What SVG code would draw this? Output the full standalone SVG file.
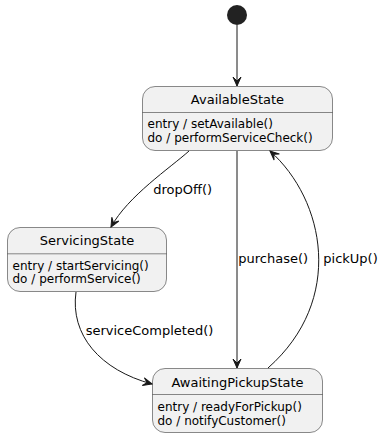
<svg xmlns="http://www.w3.org/2000/svg" width="383" height="437" viewBox="0 0 383 437">
  <style>
    .state { fill: #F1F1F1; stroke: #181818; stroke-width: 0.5; }
    .sep { stroke: #181818; stroke-width: 0.5; }
    .name { font-family: "DejaVu Sans", sans-serif; font-size: 13px; fill: #000; text-anchor: middle; }
    .body { font-family: "DejaVu Sans", sans-serif; font-size: 12px; fill: #000; }
    .edge { fill: none; stroke: #181818; stroke-width: 1; marker-end: url(#arrow); }
    .label { font-family: "DejaVu Sans", sans-serif; font-size: 13px; fill: #000; }
  </style>
  <defs>
    <marker id="arrow" markerUnits="userSpaceOnUse" viewBox="-10 -5 11 10" refX="0" refY="0" markerWidth="11" markerHeight="10" orient="auto">
      <path d="M0,0 L-9,-4 L-5,0 L-9,4 Z" fill="#181818" stroke="#181818" stroke-width="1" stroke-linejoin="miter"/>
    </marker>
  </defs>

  <!-- initial pseudo-state -->
  <g id="start">
    <circle cx="237" cy="15" r="10" fill="#222222"/>
  </g>

  <g id="AvailableState">
    <rect class="state" x="142.5" y="86.5" width="190" height="64" rx="12.5" ry="12.5"/>
    <line class="sep" x1="142.5" y1="112.5" x2="332.5" y2="112.5"/>
    <text class="name" x="237.5" y="104">AvailableState</text>
    <text class="body" x="147.5" y="128">entry / setAvailable()</text>
    <text class="body" x="147.5" y="141.5">do / performServiceCheck()</text>
  </g>

  <g id="ServicingState">
    <rect class="state" x="7.5" y="227.5" width="159" height="64" rx="12.5" ry="12.5"/>
    <line class="sep" x1="7.5" y1="253.8" x2="166.5" y2="253.8"/>
    <text class="name" x="87" y="245">ServicingState</text>
    <text class="body" x="12.5" y="269.5">entry / startServicing()</text>
    <text class="body" x="12.5" y="283">do / performService()</text>
  </g>

  <g id="AwaitingPickupState">
    <rect class="state" x="152.5" y="368.5" width="170" height="64" rx="12.5" ry="12.5"/>
    <line class="sep" x1="152.5" y1="394.5" x2="322.5" y2="394.5"/>
    <text class="name" x="237.5" y="386.5">AwaitingPickupState</text>
    <text class="body" x="157.5" y="411">entry / readyForPickup()</text>
    <text class="body" x="157.5" y="424.5">do / notifyCustomer()</text>
  </g>

  <g id="connectors">
    <path class="edge" d="M237,25 L237,86"/>
    <path class="edge" d="M189,151 C170,168 128,196 111,227"/>
    <text class="label" x="153.3" y="193.5">dropOff()</text>
    <path class="edge" d="M237,151 L237,368"/>
    <text class="label" x="238.3" y="263.3">purchase()</text>
    <path class="edge" d="M268,368 C345,300 325,200 270,151"/>
    <text class="label" x="323.3" y="263.3">pickUp()</text>
    <path class="edge" d="M76,292 C70,335 100,370 152,384"/>
    <text class="label" x="85.7" y="335">serviceCompleted()</text>
  </g>
</svg>
